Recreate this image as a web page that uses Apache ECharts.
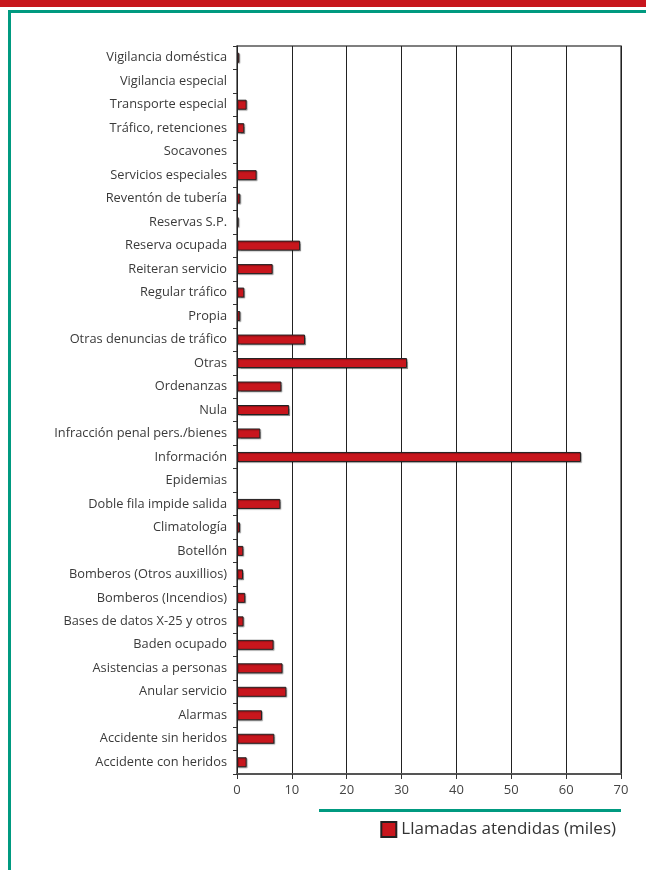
<!DOCTYPE html>
<html>
<head>
<meta charset="utf-8">
<script src="https://cdn.jsdelivr.net/npm/echarts@6/dist/echarts.min.js"></script>
<style>
html,body{margin:0;padding:0;background:#fff;}
#wrap{position:relative;width:646px;height:870px;overflow:hidden;}
#red{position:absolute;left:0;top:0;width:646px;height:7px;background:#c8161d;}
#tealTop{position:absolute;left:8px;top:10px;width:638px;height:3px;background:#009a80;}
#tealLeft{position:absolute;left:8px;top:10px;width:3px;height:860px;background:#009a80;}
#chart{position:absolute;left:0;top:0;width:646px;height:870px;}
</style>
</head>
<body>
<div id="wrap">
<div id="red"></div>
<div id="tealTop"></div>
<div id="tealLeft"></div>
<div id="chart"></div>
</div>
<script>
const categories = [
  "Vigilancia doméstica","Vigilancia especial","Transporte especial","Tráfico, retenciones",
  "Socavones","Servicios especiales","Reventón de tubería","Reservas S.P.","Reserva ocupada",
  "Reiteran servicio","Regular tráfico","Propia","Otras denuncias de tráfico","Otras",
  "Ordenanzas","Nula","Infracción penal pers./bienes","Información","Epidemias",
  "Doble fila impide salida","Climatología","Botellón","Bomberos (Otros auxillios)",
  "Bomberos (Incendios)","Bases de datos X-25 y otros","Baden ocupado","Asistencias a personas",
  "Anular servicio","Alarmas","Accidente sin heridos","Accidente con heridos"
];
const llamadas = [
  0.42, 0, 1.76, 1.33,
  0, 3.58, 0.6, 0.3, 11.5,
  6.5, 1.33, 0.6, 12.4, 31.0,
  8.1, 9.5, 4.25, 62.7, 0,
  7.9, 0.55, 1.15, 1.1,
  1.5, 1.2, 6.67, 8.3,
  9.0, 4.55, 6.8, 1.76
];
const xTicks = {min: 0, max: 70, interval: 10};
const seriesName = "Llamadas atendidas (miles)";

const chart = echarts.init(document.getElementById('chart'));
const font = "'Open Sans', 'Noto Sans', sans-serif";
const barData = llamadas.map(v => v === 0
  ? {value: v, itemStyle: {borderWidth: 0, shadowColor: 'rgba(0,0,0,0)'}}
  : v);
chart.setOption({
  animation: false,
  textStyle: {fontFamily: font},
  grid: {left: 237, right: 25, top: 46, bottom: 96, show: true, borderColor: '#555', borderWidth: 1.5, containLabel: false},
  xAxis: {
    type: 'value', min: xTicks.min, max: xTicks.max, interval: xTicks.interval,
    axisLine: {show: true, lineStyle: {color: '#555', width: 2}},
    axisTick: {show: true, length: 5, lineStyle: {color: '#333'}},
    axisLabel: {color: '#444', fontSize: 13, margin: 10, fontFamily: font},
    splitLine: {show: true, lineStyle: {color: '#222', width: 1}}
  },
  yAxis: {
    type: 'category', data: categories, inverse: true,
    axisLine: {show: true, lineStyle: {color: '#222', width: 1}},
    axisTick: {show: true, length: 4, lineStyle: {color: '#333'}},
    axisLabel: {color: '#3a3a3a', fontSize: 12.8, margin: 10, fontFamily: font}
  },
  legend: {
    show: true, right: 25, top: 816, itemWidth: 15, itemHeight: 15, itemGap: 6,
    icon: 'rect',
    textStyle: {color: '#333', fontSize: 17, fontFamily: font},
    data: [seriesName]
  },
  graphic: [
    {type: 'rect', left: 319, top: 809, shape: {width: 302, height: 3}, style: {fill: '#009a80'}}
  ],
  series: [{
    name: seriesName, type: 'bar', data: barData, barWidth: 10,
    itemStyle: {color: '#c8161d', borderColor: '#222', borderWidth: 1,
      shadowColor: 'rgba(0,0,0,0.3)', shadowOffsetX: 1, shadowOffsetY: 1, shadowBlur: 1}
  }]
});
</script>
</body>
</html>
